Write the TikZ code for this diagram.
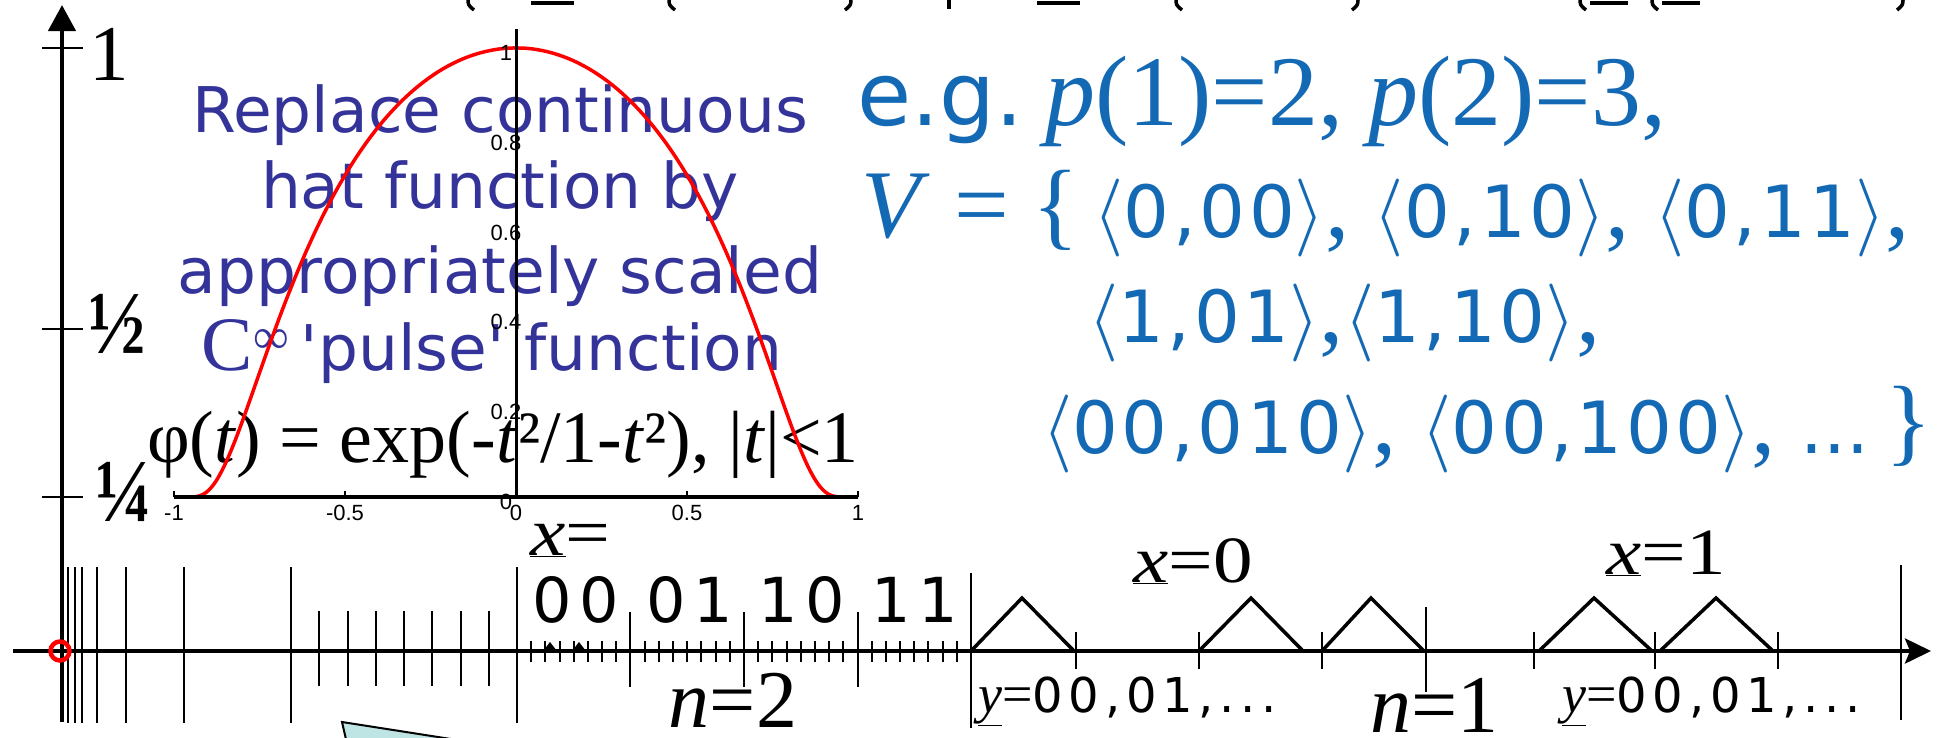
\RequirePackage{fix-cm}
\documentclass[tikz,border=0pt]{standalone}
\usepackage{graphicx}
\usepackage{fontspec}
\setmainfont{Liberation Serif}
\newfontfamily\dvplain{DejaVu Sans}
\newfontfamily\dvwide[LetterSpace=12]{DejaVu Sans}
\newfontfamily\dvtight[LetterSpace=5]{DejaVu Sans}
\newfontfamily\dvarial{Liberation Sans}
\usetikzlibrary{arrows.meta, positioning, calc}
\definecolor{cpurple}{HTML}{333399}
\definecolor{cblue}{HTML}{1469B4}
\definecolor{ccyan}{HTML}{BFE4E4}
\newcommand{\fs}[1]{\fontsize{#1}{#1}\selectfont}
\newcommand{\ang}[1]{{\fs{78}$\langle$}{\dvtight\fs{72}#1}{\fs{78}$\rangle$}}
\newcommand{\ulx}[1]{\underline{\textit{#1}}}
\newcommand{\wide}[2]{\scalebox{#1}[1]{#2}}
\tikzset{
  lbl/.style={inner sep=0pt, anchor=base west},
  hattxt/.style={inner sep=0pt, anchor=base, text=cpurple, font=\dvplain\fs{63}},
  bluetxt/.style={inner sep=0pt, anchor=base west, text=cblue},
  bits/.style={inner sep=0pt, anchor=base, font=\dvwide\fs{62}},
  vline/.style={line width=#1},
  vline/.default=2.3pt,
  ticklbl/.style={font=\dvarial\fs{22}, inner sep=0pt},
  hat/.style={line width=3.5pt, line join=miter},
  frag/.style={line width=3.5pt},
}

\begin{document}
\begin{tikzpicture}[x=1pt, y=-1pt]
  \useasboundingbox (0,0) rectangle (1939,737);
  \clip (0,0) rectangle (1939,737);
  % bottoms of the cut-off line at the top
  \foreach \x in {468,669,1176,1580,1652} \draw[frag] (\x,-2) .. controls (\x,5) .. (\x+6,10);
  \foreach \x in {851,1358,1903} \draw[frag] (\x,-2) .. controls (\x,5) .. (\x-6,10);
  \draw[frag] (949,-2) -- (949,9);
  \foreach \a/\b in {531/574, 1037/1080, 1590/1628, 1662/1700} \draw[line width=4.5pt] (\a,3) -- (\b,3);
  % cut-off box at the bottom
  \draw[line width=2pt, fill=ccyan] (342,722) -- (470,742) -- (348,748) -- cycle;
  % text about the pulse function
  \foreach \t/\y [count=\i] in {Replace continuous/132, hat function by/208, appropriately scaled/293}
    \node[hattxt] (hat\i) at (500,\y) {\t};
  \node[hattxt] (hat4) at (492,370) {{\rmfamily\fs{77}C}\raisebox{17pt}{\rmfamily\fs{50}∞}\hspace{12pt}\textquotesingle pulse\textquotesingle\ function};
  \node[lbl, font=\fs{74}] (phi) at (147,462) {φ(\textit{t}) = exp(-\textit{t}²/1-\textit{t}²), |\textit{t}|<1};
  % example set V
  \node[bluetxt] (eg) at (857,125) {{\dvplain\fs{88}e.g.}\hspace{22pt}{\fs{100}\textit{p}(1)=2, \textit{p}(2)=3,}};
  \node[bluetxt, font=\fs{97}] (v1) at (861,237) {\textit{V} = \{\hspace{14pt}\ang{0,00}, \ang{0,10}, \ang{0,11},};
  \node[bluetxt, font=\fs{97}] (v2) at (1088,342) {\ang{1,01},\ang{1,10},};
  \node[bluetxt, font=\fs{97}] (v3) at (1042,453) {\ang{00,010}, \ang{00,100}, {\dvplain\fs{72}...}\,\}};
  % plot of phi
  \begin{scope}[shift={(516,497)}, x=342pt, y=449pt]
    \draw[red, line width=3.5pt, line join=round] (-1,0) -- plot[domain=-0.97:0.97, samples=121, smooth] (\x, {exp(-\x*\x/(1-\x*\x))}) -- (1,0);
    \draw[line width=4pt] (-1,0) -- (1,0);
    \draw[line width=3pt] (0,0) -- (0,1.042);
    \foreach \v in {-1,-0.5,0.5,1} \draw[line width=1.5pt] (\v,0) -- ++(0,6pt);
    \foreach \v [count=\i] in {0,0.2,0.4,0.6,0.8,1}
      \node[ticklbl, xshift=-10pt, yshift=-5pt] (yl\i) at (0,\v) {\v};
    \foreach \v [count=\i] in {-1,-0.5,0,0.5,1}
      \node[ticklbl, anchor=north, yshift=-8pt] (xl\i) at (\v,0) {\v};
  \end{scope}
  % vertical axis
  \draw[line width=4.5pt, -{Triangle[length=26pt, width=27pt]}] (62,722) -- (62,5);
  \foreach \y in {48,329,497} \draw[vline=2.5pt] (42,\y) -- (83,\y);
  \node[lbl, font=\fs{79}] (one) at (89,80) {1};
  \node[lbl, font=\bfseries\fs{90}] (half) at (88,353) {\wide{0.85}{½}};
  \node[lbl, font=\bfseries\fs{90}] (quarter) at (95,521) {\wide{0.85}{¼}};
  % number line
  \foreach \x in {68,75,82,97,126,184,291,517} \draw[vline] (\x,567) -- (\x,723);
  \draw[vline] (971,573) -- (971,728);
  \draw[vline] (1901,565) -- (1901,720);
  \foreach \k in {1,...,7} \draw[vline=2pt] ({291+28.25*\k},611) -- ++(0,75);
  \foreach \x in {630,744,858} \draw[vline=2pt] (\x,612) -- (\x,687);
  \foreach \q in {0,...,3}
    \foreach \k in {1,...,7} \draw[vline=2pt] ({517+113.5*\q+14.19*\k},641) -- ++(0,21);
  \foreach \x in {1076,1199,1322,1534,1655,1778} \draw[vline=2pt] (\x,632) -- (\x,669);
  \draw[vline=2pt] (1426,607) -- (1426,692);
  \foreach \a/\b in {543/557, 572/586} \fill (\a,651) -- ({(\a+\b)/2},642) -- (\b,651) -- cycle;
  \foreach \a/\p/\b in {971/1022/1074, 1199/1251/1303, 1322/1371/1424, 1539/1594/1652, 1660/1716/1773}
    \draw[hat] (\a,651) -- (\p,598) -- (\b,651);
  \draw[line width=4pt, -{Stealth[length=26pt, width=25pt, inset=5pt]}] (13,651) -- (1931,651);
  \draw[red, line width=4.5pt] (60,651) circle[radius=9.5pt];
  % labels of the number line
  \node[lbl, font=\fs{68}] (xeq) at (530,555) {\wide{1.17}{\ulx{x}=}};
  \foreach \b/\c [count=\i] in {00/576, 01/690, 10/802, 11/915}
    \node[bits] (bits\i) at (\c,622) {\b};
  \node[lbl, anchor=base, font=\fs{82}, text depth=0pt] (n2) at (733,727) {\textit{n}=2};
  \node[lbl, font=\fs{66}] (x0) at (1133,582) {\wide{1.2}{\ulx{x}=0}};
  \node[lbl, font=\fs{66}] (x1) at (1606,574) {\wide{1.2}{\ulx{x}=1}};
  \node[lbl] (y0) at (978,712) {{\fs{54}\ulx{y}=}{\dvwide\fs{48}00,01,...}};
  \node[lbl] (y1) at (1562,712) {{\fs{54}\ulx{y}=}{\dvwide\fs{48}00,01,...}};
  \node[lbl, font=\fs{82}, text depth=0pt] (n1) at (1370,732) {\textit{n}=1};
\end{tikzpicture}
\end{document}
